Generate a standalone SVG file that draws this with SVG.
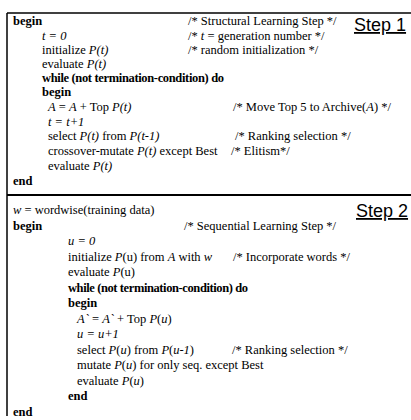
<svg xmlns="http://www.w3.org/2000/svg" width="411" height="420" viewBox="0 0 411 420">
<style>
.t{font-family:"Liberation Serif","Times New Roman",serif;font-size:12.5px;fill:#000}
.b{font-weight:bold}
.i{font-style:italic}
.step{font-family:"Liberation Sans",Arial,sans-serif;font-size:18px;fill:#000;text-decoration:underline}
.frame{stroke:#000;fill:none}
</style>
<rect width="411" height="420" fill="#fff"/>
<g id="frame">
<line class="frame" x1="7" y1="13" x2="411" y2="13" stroke-width="1.5"/>
<line class="frame" x1="7" y1="13" x2="7" y2="416" stroke-width="1.5"/>
<line class="frame" x1="7" y1="195" x2="411" y2="195" stroke-width="2.2"/>
</g>
<g id="step1">
<text class="step" x="354" y="31">Step 1</text>
<text class="t b" x="13" y="25">begin</text>
<text class="t" x="188" y="25">/* Structural Learning Step */</text>
<text class="t i" x="42" y="39.5">t = 0</text>
<text class="t" x="188" y="39.5">/* <tspan class="i">t</tspan> = generation number */</text>
<text class="t" x="42" y="54">initialize <tspan class="i">P(t)</tspan></text>
<text class="t" x="188" y="54">/* random initialization */</text>
<text class="t" x="42" y="68">evaluate <tspan class="i">P(t)</tspan></text>
<text class="t b" x="42" y="82" textLength="182" lengthAdjust="spacing">while (not termination-condition) do</text>
<text class="t b" x="42" y="96">begin</text>
<text class="t" x="48" y="111"><tspan class="i">A</tspan> = <tspan class="i">A</tspan> + Top <tspan class="i">P(t)</tspan></text>
<text class="t" x="233" y="111">/* Move Top 5 to Archive(<tspan class="i">A</tspan>) */</text>
<text class="t i" x="48" y="125.5">t = t+1</text>
<text class="t" x="48" y="140">select <tspan class="i">P(t)</tspan> from <tspan class="i">P(t-1)</tspan></text>
<text class="t" x="235" y="140">/* Ranking selection */</text>
<text class="t" x="48" y="155">crossover-mutate <tspan class="i">P(t)</tspan> except Best</text>
<text class="t" x="231" y="155">/* Elitism*/</text>
<text class="t" x="48" y="169.5">evaluate <tspan class="i">P(t)</tspan></text>
<text class="t b" x="13" y="185">end</text>
</g>
<g id="step2">
<text class="step" x="356" y="217">Step 2</text>
<text class="t" x="13" y="214"><tspan class="i">w</tspan> = wordwise(training data)</text>
<text class="t b" x="13" y="229.5">begin</text>
<text class="t" x="184" y="229.5">/* Sequential Learning Step */</text>
<text class="t i" x="68" y="245">u = 0</text>
<text class="t" x="68" y="260.5">initialize <tspan class="i">P</tspan>(u) from <tspan class="i">A</tspan> with <tspan class="i">w</tspan></text>
<text class="t" x="233" y="260.5">/* Incorporate words */</text>
<text class="t" x="68" y="276">evaluate <tspan class="i">P</tspan>(u)</text>
<text class="t b" x="68" y="291.5" textLength="180" lengthAdjust="spacing">while (not termination-condition) do</text>
<text class="t b" x="68" y="307">begin</text>
<text class="t" x="77" y="322.5"><tspan class="i">A`</tspan> = <tspan class="i">A`</tspan> + Top <tspan class="i">P</tspan>(<tspan class="i">u</tspan>)</text>
<text class="t i" x="77" y="338">u = u+1</text>
<text class="t" x="77" y="353.5">select <tspan class="i">P</tspan>(<tspan class="i">u</tspan>) from <tspan class="i">P</tspan>(<tspan class="i">u-1</tspan>)</text>
<text class="t" x="232" y="353.5">/* Ranking selection */</text>
<text class="t" x="77" y="369">mutate <tspan class="i">P</tspan>(<tspan class="i">u</tspan>) for only seq. except Best</text>
<text class="t" x="77" y="384.5">evaluate <tspan class="i">P</tspan>(<tspan class="i">u</tspan>)</text>
<text class="t b" x="68" y="400">end</text>
<text class="t b" x="13" y="415.5">end</text>
</g>
</svg>
